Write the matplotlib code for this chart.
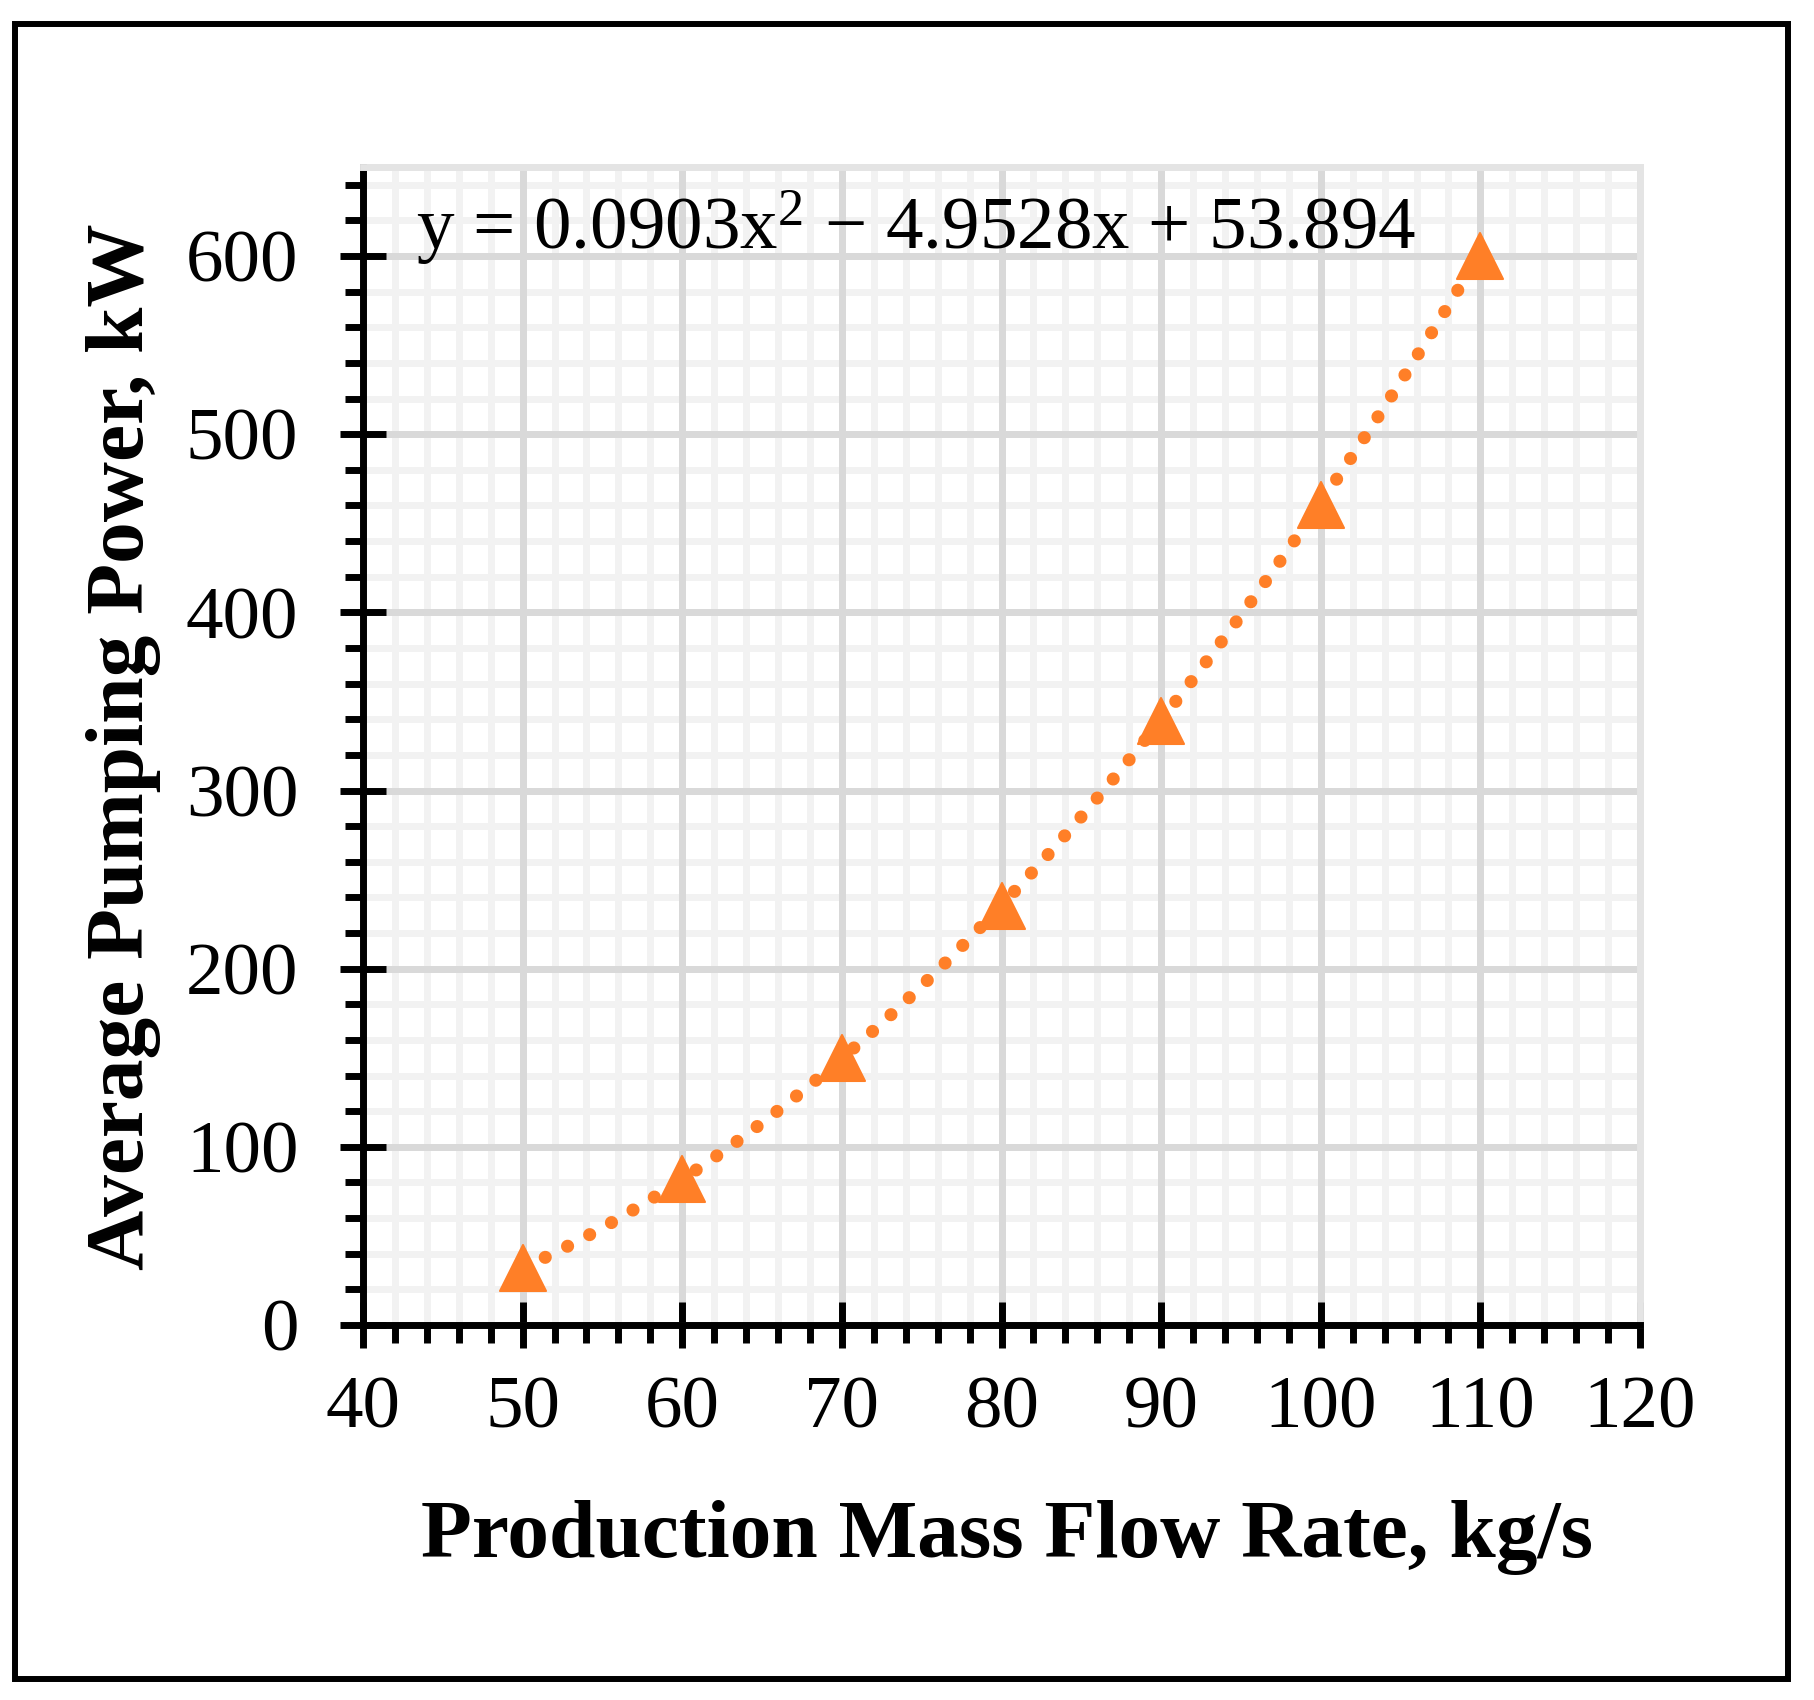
import numpy as np
import matplotlib.pyplot as plt
from matplotlib.patches import Rectangle
from matplotlib.markers import MarkerStyle
from matplotlib.ticker import MultipleLocator

# data
flow = [50, 60, 70, 80, 90, 100, 110]          # kg/s
power = [32, 82, 150, 235, 339, 460, 600]      # kW
fit_coef = [0.0903, -4.9528, 53.894]           # polynomial trendline from the chart
eq_text = r"y = 0.0903x$^\mathrm{2}$ − 4.9528x + 53.894"

orange = '#FF7F27'
W, H = 1814, 1700

plt.rcParams['font.family'] = ['Liberation Serif', 'DejaVu Serif']
plt.rcParams['mathtext.fontset'] = 'custom'
plt.rcParams['mathtext.rm'] = 'Liberation Serif'
plt.rcParams['mathtext.it'] = 'Liberation Serif:italic'

fig = plt.figure(figsize=(W / 100, H / 100), dpi=100)
ax = fig.add_axes([363 / W, 1 - 1325 / H, (1640 - 363) / W, (1325 - 167) / H])

# trendline (dotted) and markers
xs = np.linspace(flow[0], flow[-1], 300)
ax.plot(xs, np.polyval(fit_coef, xs), color=orange, lw=9.4,
        linestyle=(0, (0.01, 1.9)), dash_capstyle='round', zorder=3)
ax.plot(flow, power, linestyle='none', marker=MarkerStyle('^', joinstyle='round'),
        ms=33, color=orange, mec=orange, mew=1.5, zorder=4)

ax.set_xlim(40, 120)
ax.set_ylim(0, 650)
ax.xaxis.set_major_locator(MultipleLocator(10))
ax.xaxis.set_minor_locator(MultipleLocator(2))
ax.yaxis.set_major_locator(MultipleLocator(100))
ax.yaxis.set_minor_locator(MultipleLocator(20))

# light minor grid underneath, darker major grid on top of it
ax.set_axisbelow(True)
ax.vlines(np.arange(42, 120, 2), 0, 650, color='#f2f2f2', lw=5, zorder=0.2)
ax.hlines(np.arange(20, 650, 20), 40, 120, color='#f2f2f2', lw=5, zorder=0.2)
ax.grid(which='major', color='#d9d9d9', lw=5)

ax.tick_params(which='major', direction='inout', length=33, width=5,
               labelsize=54, colors='black')
ax.tick_params(which='minor', direction='out', length=13, width=5)
ax.tick_params(axis='x', which='major', pad=20)
ax.tick_params(axis='y', which='major', pad=30)

for s in ['left', 'bottom']:
    ax.spines[s].set_linewidth(5)
    ax.spines[s].set_color('black')
for s in ['top', 'right']:
    ax.spines[s].set_linewidth(5)
    ax.spines[s].set_color('#e4e4e4')

# equation
fig.text(416 / W, 1 - 249 / H, eq_text, fontsize=54, ha='left', va='baseline')

# axis titles
fig.text(1007 / W, 1 - 1557 / H, "Production Mass Flow Rate, kg/s",
         fontsize=60, fontweight='bold', ha='center', va='baseline')
fig.text(143 / W, 1 - 747 / H, "Average Pumping Power, kW",
         fontsize=60, fontweight='bold', ha='center', va='baseline',
         rotation=90, rotation_mode='anchor')

# outer frame
fig.patches.append(Rectangle((15 / W, 1 - 1679 / H), (1788 - 15) / W, (1679 - 24) / H,
                             fill=False, lw=4.3, ec='black', transform=fig.transFigure))

fig.savefig('out.png', dpi=100)
